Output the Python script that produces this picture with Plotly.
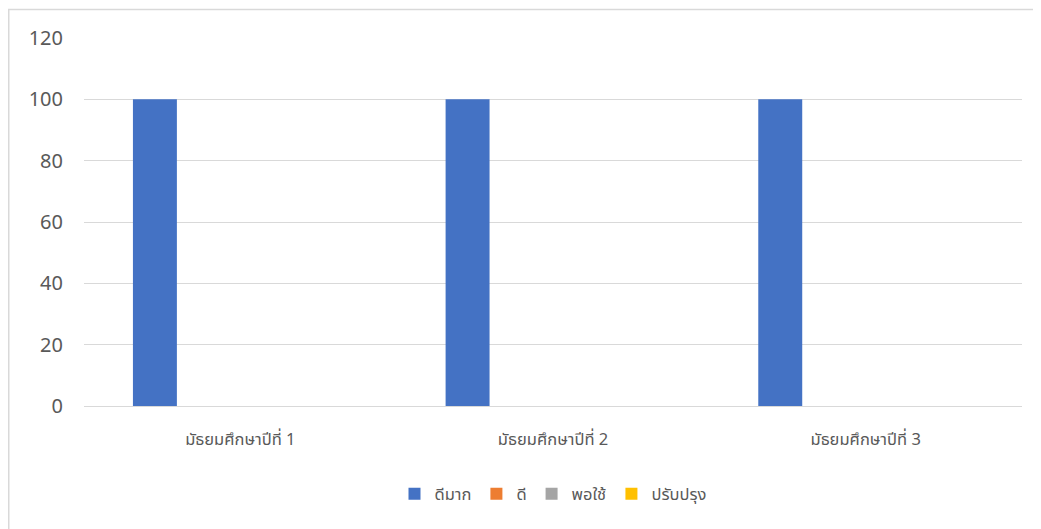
import plotly.graph_objects as go

categories = ["มัธยมศึกษาปีที่ 1", "มัธยมศึกษาปีที่ 2", "มัธยมศึกษาปีที่ 3"]
series_names = ["ดีมาก", "ดี", "พอใช้", "ปรับปรุง"]
val_excellent = [100, 100, 100]
val_good = [0, 0, 0]
val_fair = [0, 0, 0]
val_improve = [0, 0, 0]
series_values = [val_excellent, val_good, val_fair, val_improve]
colors = ["#4472C4", "#ED7D31", "#A5A5A5", "#FFC000"]
y_ticks = [0, 20, 40, 60, 80, 100, 120]

bar_w = 0.1406
start = -0.3435

fig = go.Figure()
for i, (name, vals, col) in enumerate(zip(series_names, series_values, colors)):
    fig.add_trace(go.Bar(
        x=categories, y=vals, name=name,
        marker=dict(color=col, line=dict(width=0)),
        width=bar_w, offset=start + i * bar_w,
    ))

# page body has an 8px margin
W, H = 1033, 521
ml, mr, mt, mb = 76, 19, 30, 123
pw = W - ml - mr
ph = H - mt - mb

fig.update_layout(
    width=W, height=H,
    margin=dict(l=ml, r=mr, t=mt, b=mb),
    paper_bgcolor="white", plot_bgcolor="white",
    barmode="group",
    showlegend=True,
    font=dict(family="Noto Sans Thai, Noto Sans, Liberation Sans, sans-serif", color="#595959"),
    legend=dict(orientation="h", x=0.5, xanchor="center", y=(ph - (494 - 8 - mt)) / ph, yanchor="middle",
                font=dict(size=16.5, color="#595959"), itemwidth=30, traceorder="normal"),
    xaxis=dict(showgrid=False, showline=True, linecolor="#D9D9D9", linewidth=1,
               ticks="", tickfont=dict(size=16.5, color="#595959"), ticklabelstandoff=18),
    yaxis=dict(range=[0, 120], tickvals=y_ticks, showgrid=True, gridcolor="#D9D9D9", gridwidth=1,
               zeroline=False, showline=False, ticks="", tickfont=dict(size=20, color="#595959"),
               ticklabelstandoff=20),
    shapes=[dict(type="rect", xref="paper", yref="paper",
                 x0=(0.75 - ml) / pw, x1=(W + 20 - ml) / pw, y0=-0.6, y1=1 + (mt - 1.5) / ph,
                 line=dict(color="#D9D9D9", width=1.5), fillcolor="rgba(0,0,0,0)", layer="below")],
)

fig.write_html("out.html")
